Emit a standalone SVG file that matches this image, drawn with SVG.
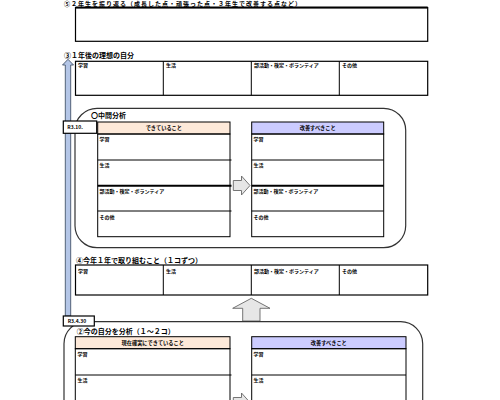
<svg xmlns="http://www.w3.org/2000/svg" width="500" height="400" viewBox="0 0 500 400">
<style>
text{font-family:"Noto Sans CJK JP","Noto Sans",sans-serif;fill:#000}
.t{font-size:7px;font-weight:bold}
.l{font-size:5px;font-weight:bold}
.h{font-size:5.2px;font-weight:bold;text-anchor:middle}
.box{fill:#fff;stroke:#000;stroke-width:1.2}
.ln{stroke:#000;stroke-width:1}
.thk{stroke:#000;stroke-width:2}
.rnd{fill:none;stroke:#333;stroke-width:1.2}
.peach{fill:#fde9d9;stroke:#000;stroke-width:1}
.lav{fill:#ccccff;stroke:#000;stroke-width:1}
.tag{fill:#fff;stroke:#000;stroke-width:1.2}
.blk{fill:#e6e6e6;stroke:#666;stroke-width:0.9}
</style>
<rect width="500" height="400" fill="#fff"/>
<g id="connectors">
<path d="M65.3,316 V65 H62.5 L68,59.3 L73.5,65 H70.7 V316 Z" fill="#b4c6e7" stroke="#44546a" stroke-width="0.9"/>
<path class="blk" d="M233.3,180.5 H241.5 V176 L250,185.5 L241.5,195 V190.5 H233.3 Z"/>
<path class="blk" d="M242.7,321 V308.3 H232.7 L251.3,298.3 L270,308.3 H260 V321 Z"/>
<path class="blk" d="M233.3,397.5 H241.5 V393 L250,402.5 L241.5,412 V407.5 H233.3 Z"/>
</g>
<g id="review">
<text class="t" x="64" y="6.2" style="font-size:6px;letter-spacing:1px">⑤２年生を振り返る（成長した点・頑張った点・３年生で改善する点など）</text>
<rect class="box" x="75.5" y="7.6" width="352.2" height="33.7"/>
<line class="thk" x1="75.5" y1="7.6" x2="427.7" y2="7.6"/>
</g>
<g id="ideal">
<text class="t" x="64" y="57.5">③１年後の理想の自分</text>
<rect class="box" x="75.5" y="61.3" width="352.2" height="34"/>
<line class="ln" x1="163.3" y1="61.3" x2="163.3" y2="95.3"/>
<line class="ln" x1="251.3" y1="61.3" x2="251.3" y2="95.3"/>
<line class="ln" x1="339.3" y1="61.3" x2="339.3" y2="95.3"/>
<text class="l" x="78" y="67">学習</text>
<text class="l" x="166" y="67">生活</text>
<text class="l" x="254" y="67">部活動・検定・ボランティア</text>
<text class="l" x="342" y="67">その他</text>
</g>
<g id="midterm">
<rect class="rnd" x="75" y="108.3" width="330.7" height="139.4" rx="22" ry="22"/>
<text class="t" x="91" y="117.5">〇中間分析</text>
<rect class="tag" x="63.3" y="121" width="33.4" height="12.3"/>
<text class="l" x="67.3" y="129">R3.10.</text>
<rect class="peach" x="97.7" y="122" width="132.3" height="12"/>
<text class="h" x="163.8" y="130">できていること</text>
<rect fill="none" class="ln" x="97.7" y="134" width="132.3" height="102.7"/>
<line class="ln" x1="97.7" y1="160" x2="231.5" y2="160"/>
<line class="thk" x1="97.7" y1="185.7" x2="231.5" y2="185.7"/>
<line class="ln" x1="97.7" y1="211" x2="231.5" y2="211"/>
<text class="l" x="99.5" y="140.5">学習</text>
<text class="l" x="99.5" y="167">生活</text>
<text class="l" x="99.5" y="193">部活動・検定・ボランティア</text>
<text class="l" x="99.5" y="219">その他</text>
<rect class="lav" x="251.7" y="122" width="132" height="12"/>
<text class="h" x="317.7" y="130">改善すべきこと</text>
<rect fill="none" class="ln" x="251.7" y="134" width="132" height="102.7"/>
<line class="ln" x1="251.7" y1="160" x2="383.7" y2="160"/>
<line class="thk" x1="251.7" y1="185.7" x2="383.7" y2="185.7"/>
<line class="ln" x1="251.7" y1="211" x2="383.7" y2="211"/>
<text class="l" x="253.5" y="140.5">学習</text>
<text class="l" x="253.5" y="167">生活</text>
<text class="l" x="253.5" y="193">部活動・検定・ボランティア</text>
<text class="l" x="253.5" y="219">その他</text>
</g>
<g id="thisyear">
<text class="t" x="76" y="262.5">④今年１年で取り組むこと（１コずつ）</text>
<rect class="box" x="75.5" y="265" width="352.2" height="30"/>
<line class="ln" x1="163.3" y1="265" x2="163.3" y2="295"/>
<line class="ln" x1="251.3" y1="265" x2="251.3" y2="295"/>
<line class="ln" x1="339.3" y1="265" x2="339.3" y2="295"/>
<text class="l" x="78" y="273">学習</text>
<text class="l" x="166" y="273">生活</text>
<text class="l" x="254" y="273">部活動・検定・ボランティア</text>
<text class="l" x="342" y="273">その他</text>
</g>
<g id="current">
<rect class="rnd" x="64" y="321.7" width="358.7" height="140" rx="22" ry="22"/>
<rect class="tag" x="63.3" y="316" width="31" height="10"/>
<text class="l" x="67.7" y="322.8">R3.4.30</text>
<text class="t" x="76.7" y="333.5">②今の自分を分析（１～２コ）</text>
<rect class="peach" x="75.3" y="336.7" width="154.7" height="12"/>
<text class="h" x="152.7" y="344.7">現在確実にできていること</text>
<rect fill="none" class="ln" x="75.3" y="348.7" width="154.7" height="70"/>
<line class="ln" x1="75.3" y1="375" x2="231.5" y2="375"/>
<text class="l" x="77.5" y="355.5">学習</text>
<text class="l" x="77.5" y="381.5">生活</text>
<rect class="lav" x="251.7" y="336.7" width="154.3" height="12"/>
<text class="h" x="328.8" y="344.7">改善すべきこと</text>
<rect fill="none" class="ln" x="251.7" y="348.7" width="154.3" height="70"/>
<line class="ln" x1="251.7" y1="375" x2="406" y2="375"/>
<text class="l" x="253.5" y="355.5">学習</text>
<text class="l" x="253.5" y="381.5">生活</text>
</g>
</svg>
